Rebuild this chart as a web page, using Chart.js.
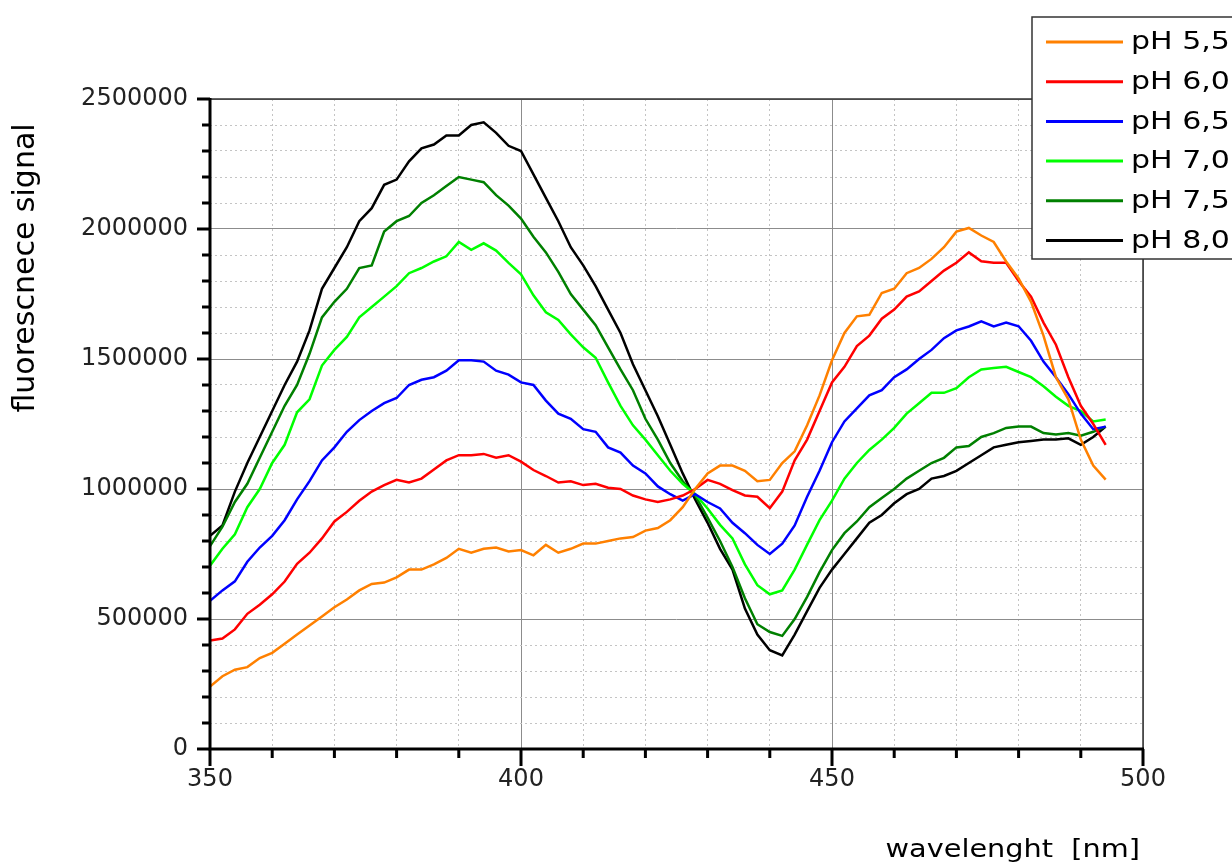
<!DOCTYPE html>
<html>
<head>
<meta charset="utf-8">
<title>pH fluorescence spectra</title>
<script src="https://cdn.jsdelivr.net/npm/chart.js@4/dist/chart.umd.min.js"></script>
<style>
  html, body { margin: 0; padding: 0; background: #fff; }
  #wrap { width: 1232px; height: 863px; position: relative; }
</style>
</head>
<body>
<div id="wrap"><canvas id="spectra"></canvas></div>
<script>
// wavelength in nm, every 2 nm
const wavelengths = [
  350, 352, 354, 356, 358, 360, 362, 364, 366, 368, 370, 372, 374, 376, 378, 380, 382, 384, 386, 388,
  390, 392, 394, 396, 398, 400, 402, 404, 406, 408, 410, 412, 414, 416, 418, 420, 422, 424, 426, 428,
  430, 432, 434, 436, 438, 440, 442, 444, 446, 448, 450, 452, 454, 456, 458, 460, 462, 464, 466, 468,
  470, 472, 474, 476, 478, 480, 482, 484, 486, 488, 490, 492, 494
];

// fluorescence signal
const ph55 = [
  240000, 280000, 305000, 315000, 350000, 370000, 405000, 440000, 475000, 510000, 545000, 575000, 610000, 635000, 640000, 660000, 690000, 690000, 710000, 735000,
  770000, 755000, 770000, 775000, 760000, 765000, 745000, 785000, 755000, 770000, 790000, 790000, 800000, 810000, 815000, 840000, 850000, 880000, 930000, 1000000,
  1060000, 1090000, 1090000, 1070000, 1030000, 1035000, 1100000, 1145000, 1245000, 1360000, 1495000, 1600000, 1664000, 1670000, 1754000, 1770000, 1830000, 1850000, 1885000, 1930000,
  1990000, 2004000, 1975000, 1950000, 1875000, 1810000, 1720000, 1590000, 1430000, 1345000, 1190000, 1090000, 1036000
];
const ph60 = [
  417000, 425000, 460000, 520000, 555000, 595000, 644000, 712000, 755000, 810000, 875000, 912000, 955000, 990000, 1015000, 1035000, 1025000, 1040000, 1075000, 1110000,
  1130000, 1130000, 1135000, 1120000, 1130000, 1105000, 1073000, 1050000, 1025000, 1030000, 1015000, 1020000, 1005000, 1000000, 975000, 960000, 950000, 960000, 975000, 1000000,
  1035000, 1020000, 996000, 975000, 970000, 926000, 990000, 1110000, 1190000, 1300000, 1410000, 1470000, 1550000, 1590000, 1655000, 1690000, 1740000, 1760000, 1800000, 1840000,
  1870000, 1910000, 1876000, 1870000, 1870000, 1800000, 1740000, 1640000, 1555000, 1430000, 1320000, 1250000, 1170000
];
const ph65 = [
  570000, 610000, 645000, 720000, 775000, 820000, 880000, 960000, 1030000, 1110000, 1160000, 1220000, 1265000, 1300000, 1330000, 1350000, 1400000, 1420000, 1430000, 1455000,
  1495000, 1495000, 1490000, 1455000, 1440000, 1410000, 1400000, 1340000, 1290000, 1270000, 1230000, 1220000, 1160000, 1140000, 1090000, 1060000, 1010000, 980000, 955000, 980000,
  950000, 925000, 870000, 830000, 785000, 750000, 790000, 860000, 970000, 1070000, 1180000, 1260000, 1310000, 1360000, 1380000, 1430000, 1460000, 1500000, 1535000, 1580000,
  1610000, 1625000, 1645000, 1625000, 1640000, 1626000, 1570000, 1490000, 1430000, 1365000, 1290000, 1230000, 1240000
];
const ph70 = [
  705000, 770000, 826000, 930000, 1000000, 1100000, 1170000, 1295000, 1345000, 1475000, 1535000, 1585000, 1660000, 1700000, 1740000, 1780000, 1830000, 1850000, 1875000, 1895000,
  1950000, 1920000, 1945000, 1917000, 1870000, 1826000, 1745000, 1680000, 1650000, 1595000, 1545000, 1505000, 1410000, 1320000, 1245000, 1190000, 1130000, 1070000, 1020000, 980000,
  925000, 862000, 810000, 710000, 630000, 595000, 610000, 690000, 786000, 880000, 955000, 1040000, 1100000, 1150000, 1190000, 1235000, 1290000, 1330000, 1370000, 1370000,
  1388000, 1430000, 1460000, 1465000, 1470000, 1450000, 1430000, 1395000, 1355000, 1320000, 1300000, 1260000, 1267000
];
const ph75 = [
  780000, 855000, 950000, 1020000, 1120000, 1220000, 1320000, 1400000, 1520000, 1660000, 1720000, 1770000, 1850000, 1860000, 1990000, 2030000, 2050000, 2100000, 2130000, 2165000,
  2200000, 2190000, 2180000, 2130000, 2090000, 2040000, 1970000, 1910000, 1835000, 1750000, 1690000, 1630000, 1545000, 1460000, 1380000, 1270000, 1190000, 1100000, 1030000, 975000,
  890000, 800000, 700000, 580000, 480000, 450000, 435000, 500000, 585000, 680000, 765000, 830000, 875000, 930000, 965000, 1000000, 1040000, 1070000, 1100000, 1120000,
  1160000, 1165000, 1200000, 1215000, 1235000, 1240000, 1240000, 1215000, 1210000, 1215000, 1205000, 1220000, 1240000
];
const ph80 = [
  820000, 860000, 990000, 1100000, 1200000, 1300000, 1400000, 1490000, 1610000, 1770000, 1850000, 1930000, 2030000, 2080000, 2170000, 2190000, 2260000, 2310000, 2325000, 2360000,
  2360000, 2400000, 2410000, 2370000, 2320000, 2300000, 2210000, 2120000, 2030000, 1930000, 1860000, 1780000, 1690000, 1600000, 1480000, 1380000, 1280000, 1170000, 1060000, 960000,
  870000, 770000, 690000, 540000, 440000, 380000, 360000, 440000, 530000, 620000, 690000, 750000, 810000, 870000, 900000, 945000, 980000, 1000000, 1040000, 1050000,
  1070000, 1100000, 1130000, 1160000, 1170000, 1180000, 1185000, 1190000, 1190000, 1195000, 1170000, 1200000, 1240000
];

const seriesLabels = ['pH 5,5', 'pH 6,0', 'pH 6,5', 'pH 7,0', 'pH 7,5', 'pH 8,0'];
const seriesColors = ['#ff8000', '#ff0000', '#0000ff', '#00ff00', '#008000', '#000000'];
const seriesValues = [ph55, ph60, ph65, ph70, ph75, ph80];

const xMajorStep = 50;
const yMajorStep = 500000;

const FONT = '"DejaVu Sans", "Liberation Sans", sans-serif';

// minor gridlines are dotted, major ones solid grey
const gridColor = (major) => (ctx) => {
  if (!ctx.tick) return '#808080';
  return ctx.tick.value % major === 0 ? '#8c8c8c' : '#c4c4c4';
};
const gridDash = (major) => (ctx) => {
  if (!ctx.tick) return [];
  return ctx.tick.value % major === 0 ? [] : [2, 3];
};

// axes, ticks and frame drawn on top of the data
const framePlugin = {
  id: 'frame',
  afterDatasetsDraw(chart) {
    const { ctx, chartArea: a, scales } = chart;
    ctx.save();
    ctx.strokeStyle = '#333';
    ctx.lineWidth = 1.5;
    ctx.beginPath();
    ctx.moveTo(a.left, a.top);
    ctx.lineTo(a.right, a.top);
    ctx.lineTo(a.right, a.bottom);
    ctx.stroke();

    ctx.strokeStyle = '#000';
    ctx.lineWidth = 3;
    ctx.beginPath();
    ctx.moveTo(a.left, a.top - 1);
    ctx.lineTo(a.left, a.bottom);
    ctx.lineTo(a.right + 1, a.bottom);
    ctx.stroke();

    ctx.beginPath();
    scales.x.ticks.forEach((t) => {
      const x = scales.x.getPixelForValue(t.value);
      const len = t.value % xMajorStep === 0 ? 17 : 9;
      ctx.moveTo(x, a.bottom);
      ctx.lineTo(x, a.bottom + len);
    });
    scales.y.ticks.forEach((t) => {
      const y = scales.y.getPixelForValue(t.value);
      const len = t.value % yMajorStep === 0 ? 13 : 8;
      ctx.moveTo(a.left, y);
      ctx.lineTo(a.left - len, y);
    });
    ctx.stroke();
    ctx.restore();
  },
  afterDraw(chart) {
    const { ctx, chartArea: a } = chart;
    ctx.save();

    // axis titles
    ctx.fillStyle = '#000';
    ctx.font = '30px ' + FONT;
    ctx.textAlign = 'center';
    ctx.textBaseline = 'alphabetic';
    ctx.translate(34, 268);
    ctx.rotate(-Math.PI / 2);
    ctx.fillText('fluorescnece signal', 0, 0);
    ctx.setTransform(1, 0, 0, 1, 0, 0);

    ctx.font = '25px ' + FONT;
    ctx.textAlign = 'right';
    ctx.translate(1140, 857);
    ctx.scale(1.15, 1);
    ctx.fillText('wavelenght  [nm]', 0, 0);
    ctx.setTransform(1, 0, 0, 1, 0, 0);

    // legend box, runs off the right edge like the original
    ctx.fillStyle = '#fff';
    ctx.fillRect(1032, 17, 220, 242);
    ctx.strokeStyle = '#333';
    ctx.lineWidth = 1.5;
    ctx.strokeRect(1032, 17, 220, 242);

    ctx.font = '24px ' + FONT;
    ctx.textAlign = 'left';
    ctx.textBaseline = 'middle';
    chart.data.datasets.forEach((ds, i) => {
      const y = 42 + i * 39.7;
      ctx.strokeStyle = ds.borderColor;
      ctx.lineWidth = 3;
      ctx.beginPath();
      ctx.moveTo(1046, y);
      ctx.lineTo(1123, y);
      ctx.stroke();
      ctx.fillStyle = '#000';
      ctx.save();
      ctx.translate(1131, y + 1);
      ctx.scale(1.25, 1);
      ctx.fillText(ds.label, 0, 0);
      ctx.restore();
    });
    ctx.restore();
  }
};

const datasets = seriesValues.map((vals, i) => ({
  label: seriesLabels[i],
  data: wavelengths.map((w, j) => ({ x: w, y: vals[j] })),
  borderColor: seriesColors[i],
  backgroundColor: seriesColors[i],
  borderWidth: 2.5,
  pointRadius: 0,
  tension: 0,
  fill: false
}));

new Chart(document.getElementById('spectra'), {
  type: 'line',
  data: { datasets },
  plugins: [framePlugin],
  options: {
    responsive: true,
    maintainAspectRatio: false,
    animation: false,
    layout: { padding: { top: 99, right: 89, left: 0, bottom: 0 } },
    plugins: {
      legend: { display: false },
      tooltip: { enabled: false }
    },
    scales: {
      x: {
        type: 'linear',
        min: 350,
        max: 500,
        afterFit: (scale) => { scale.height = 114; },
        ticks: {
          stepSize: 10,
          autoSkip: false,
          maxRotation: 0,
          padding: 16,
          color: '#222',
          font: { family: FONT, size: 24 },
          callback: (v) => (v % xMajorStep === 0 ? String(v) : '')
        },
        grid: { color: gridColor(xMajorStep), lineWidth: 1, drawTicks: false },
        border: { display: false, dash: gridDash(xMajorStep) }
      },
      y: {
        min: 0,
        max: 2500000,
        afterFit: (scale) => { scale.width = 210; },
        ticks: {
          stepSize: 100000,
          autoSkip: false,
          padding: 22,
          color: '#222',
          font: { family: FONT, size: 24 },
          callback: (v) => (v % yMajorStep === 0 ? String(v) : '')
        },
        grid: { color: gridColor(yMajorStep), lineWidth: 1, drawTicks: false },
        border: { display: false, dash: gridDash(yMajorStep) }
      }
    }
  }
});
</script>
</body>
</html>
